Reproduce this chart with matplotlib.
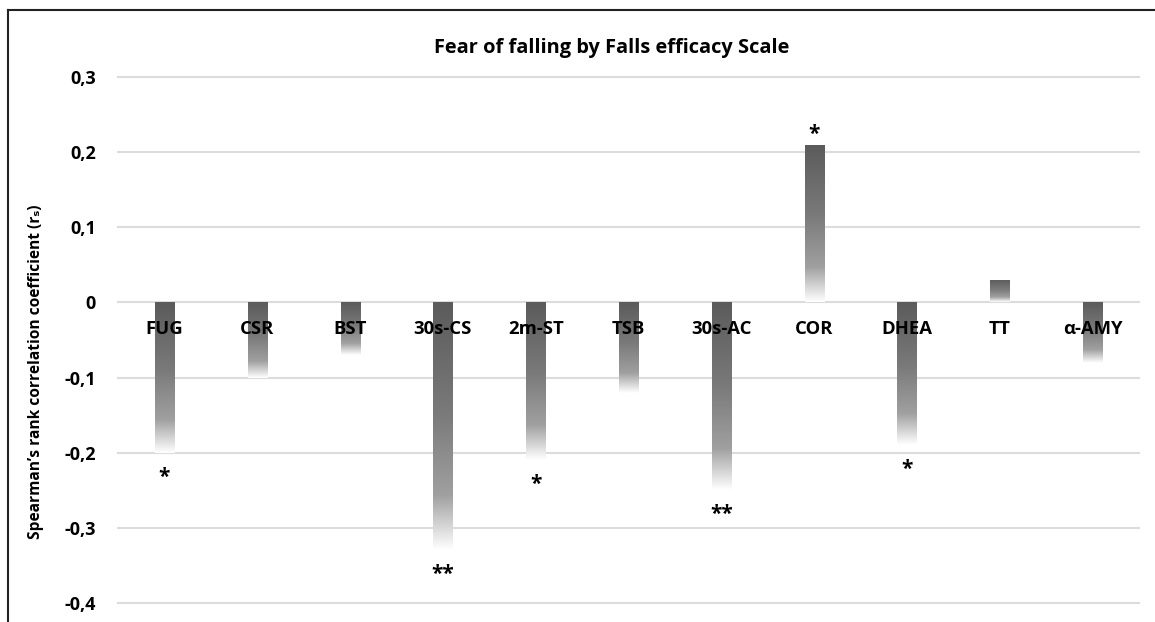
import numpy as np
import matplotlib.pyplot as plt
from matplotlib import font_manager
from matplotlib.colors import LinearSegmentedColormap
from matplotlib.lines import Line2D
from matplotlib.ticker import FuncFormatter

categories = ["FUG", "CSR", "BST", "30s-CS", "2m-ST", "TSB", "30s-AC",
              "COR", "DHEA", "TT", "\u03b1-AMY"]
rs_values = [-0.20, -0.10, -0.07, -0.33, -0.21, -0.12, -0.25,
             0.21, -0.19, 0.03, -0.08]
significance = ["*", "", "", "**", "*", "", "**", "*", "*", "", ""]
y_ticks = [-0.4, -0.3, -0.2, -0.1, 0, 0.1, 0.2, 0.3]


def pick_bold_family(candidates):
    # first family that really has a bold face installed
    for fam in candidates:
        try:
            path = font_manager.findfont(
                font_manager.FontProperties(family=fam, weight="bold"),
                fallback_to_default=False)
        except ValueError:
            continue
        if "bold" in path.lower() and "semi" not in path.lower():
            return fam
    return "DejaVu Sans"


main_font = pick_bold_family(["Open Sans", "Noto Sans", "Lato", "Liberation Sans"])
plt.rcParams['font.family'] = [main_font, 'DejaVu Sans']
plt.rcParams['font.weight'] = 'bold'

fig = plt.figure(figsize=(11.55, 6.22), dpi=100)
ax = fig.add_axes([118 / 1155, 1 - 603 / 622, (1139 - 118) / 1155, (603 - 77) / 622])

grad = LinearSegmentedColormap.from_list(
    "fade", [(0, "#5b5b5b"), (0.45, "#7a7a7a"), (0.78, "#a0a0a0"), (1, "#ffffff")])
ramp = np.linspace(0, 1, 256).reshape(-1, 1)

x = np.arange(len(categories))
bars = ax.bar(x, rs_values, width=0.205, color="none", edgecolor="none")
for bar, v in zip(bars, rs_values):
    x0 = bar.get_x()
    x1 = x0 + bar.get_width()
    # dark at the top edge, fading to white at the bottom edge
    im = ax.imshow(ramp, cmap=grad, extent=(x0, x1, min(0, v), max(0, v)),
                   origin="upper", aspect="auto", zorder=1.5,
                   interpolation="bilinear")
    im.set_clip_path(bar)

# significance stars
for i, (v, s) in enumerate(zip(rs_values, significance)):
    if not s:
        continue
    if v < 0:
        ax.annotate(s, (i, v), xytext=(0, -10), textcoords="offset points",
                    ha="center", va="top", fontsize=15, fontweight="bold")
    else:
        ax.annotate(s, (i, v), xytext=(0, 0), textcoords="offset points",
                    ha="center", va="bottom", fontsize=15, fontweight="bold")

ax.set_xlim(-0.5, len(categories) - 0.5)
ax.set_ylim(-0.4, 0.3)
ax.set_yticks(y_ticks)
ax.yaxis.set_major_formatter(FuncFormatter(
    lambda v, p: "0" if abs(v) < 1e-9 else f"{v:.1f}".replace(".", ",")))
ax.set_xticks(x, categories)

for sp in ax.spines.values():
    sp.set_visible(False)
ax.spines["bottom"].set_position(("data", 0))
ax.tick_params(axis="x", length=0, labelsize=13.3, pad=13)
ax.tick_params(axis="y", length=0, labelsize=13, pad=16)

ax.yaxis.grid(True, color="#dcdcdc", linewidth=1.5)
ax.set_axisbelow(True)
ax.xaxis.set_zorder(5)
for gl in ax.get_ygridlines():
    gl.set_clip_on(False)

ax.set_ylabel("Spearman\u2019s rank correlation coefficient (r\u209b)",
              fontsize=11.2, fontweight="bold")
ax.yaxis.set_label_coords(-74 / 1021, 0.5 - 32 / 526)

fig.text(612 / 1155, 1 - 48 / 622, "Fear of falling by Falls efficacy Scale",
         ha="center", va="center", fontsize=14.4, fontweight="bold")

# chart frame (top and left edges visible)
fig.add_artist(Line2D([8 / 1155, 1], [1 - 10 / 622, 1 - 10 / 622],
                      transform=fig.transFigure, color="#222222", linewidth=1.5))
fig.add_artist(Line2D([8 / 1155, 8 / 1155], [0, 1 - 10 / 622],
                      transform=fig.transFigure, color="#222222", linewidth=1.5))

fig.savefig("out.png", dpi=100)
